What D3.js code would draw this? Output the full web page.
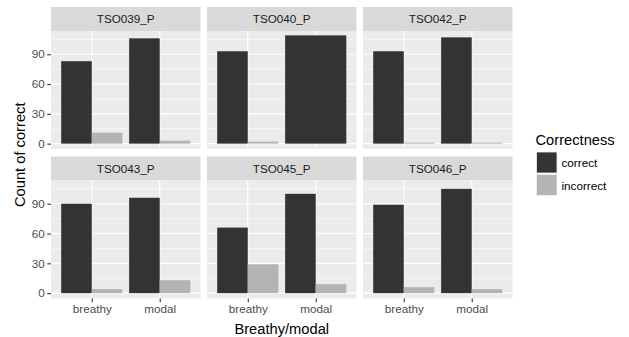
<!DOCTYPE html>
<html>
<head>
<meta charset="utf-8">
<script src="https://cdn.jsdelivr.net/npm/d3@7"></script>
<style>
  body { margin: 0; background: #fff; }
  svg { display: block; font-family: 'Liberation Sans', Arial, sans-serif; }
</style>
</head>
<body>
<svg id="chart" width="629" height="337"></svg>
<script>
// data
const speakers = ['TSO039_P', 'TSO040_P', 'TSO042_P', 'TSO043_P', 'TSO045_P', 'TSO046_P']
const voices = ['breathy', 'modal']
const levels = ['correct', 'incorrect']
const correctCounts = [[83, 106], [93, 109], [93, 107], [90, 96], [66, 100], [89, 105]]
const incorrectCounts = [[11, 3], [2, null], [1, 1], [4, 13], [29, 9], [6, 4]]
const yTicks = [0, 30, 60, 90]
const yMinor = [15, 45, 75, 105]
const yMax = 108

const fills = { correct: '#333333', incorrect: '#B3B3B3' }

const svg = d3.select('#chart')

// layout
const colX = [51, 207, 363]
const panelW = 149.5
const rowTop = [7, 156.5]
const stripH = 24
const panelH = 118

const x = d3.scalePoint().domain(voices).range([0, panelW]).padding(0.6)
const step = x.step()
const y = d3.scaleLinear()
  .domain([-0.05 * yMax, 1.05 * yMax])
  .range([panelH, 0])

speakers.forEach((name, i) => {
  const col = i % 3, row = Math.floor(i / 3)
  const g = svg.append('g')
    .attr('transform', `translate(${colX[col]},${rowTop[row]})`)

  // strip
  g.append('rect').attr('width', panelW).attr('height', stripH).attr('fill', '#D9D9D9')
  g.append('text')
    .attr('x', panelW / 2).attr('y', stripH / 2 + 4.2)
    .attr('text-anchor', 'middle')
    .attr('font-size', 11.7).attr('fill', '#1A1A1A')
    .text(name)

  const p = g.append('g').attr('transform', `translate(0,${stripH})`)
  p.append('rect').attr('width', panelW).attr('height', panelH).attr('fill', '#EBEBEB')

  // grid
  p.selectAll('.minor').data(yMinor).join('line')
    .attr('x1', 0).attr('x2', panelW)
    .attr('y1', d => y(d)).attr('y2', d => y(d))
    .attr('stroke', '#fff').attr('stroke-width', 0.55)
  p.selectAll('.major').data(yTicks).join('line')
    .attr('x1', 0).attr('x2', panelW)
    .attr('y1', d => y(d)).attr('y2', d => y(d))
    .attr('stroke', '#fff').attr('stroke-width', 1.1)
  p.selectAll('.xmajor').data(voices).join('line')
    .attr('x1', d => x(d)).attr('x2', d => x(d))
    .attr('y1', 0).attr('y2', panelH)
    .attr('stroke', '#fff').attr('stroke-width', 1.1)

  // bars, dodged
  voices.forEach((v, j) => {
    const vals = [correctCounts[i][j], incorrectCounts[i][j]]
    const present = levels.map((l, k) => ({ level: l, value: vals[k] })).filter(d => d.value != null)
    const bw = 0.9 * step / present.length
    const x0 = x(v) - 0.45 * step
    p.selectAll(null).data(present).join('rect')
      .attr('x', (d, k) => x0 + k * bw)
      .attr('width', bw)
      .attr('y', d => y(d.value))
      .attr('height', d => y(0) - y(d.value))
      .attr('fill', d => fills[d.level])
  })

  // y axis on first column
  if (col === 0) {
    const ya = p.append('g').call(d3.axisLeft(y).tickValues(yTicks).tickSize(3.7).tickPadding(2.5))
    ya.select('.domain').remove()
    ya.selectAll('line').attr('stroke', '#333333').attr('stroke-width', 1.1)
    ya.selectAll('text').attr('font-size', 11.7).attr('fill', '#4D4D4D')
      .attr('font-family', 'Liberation Sans, Arial, sans-serif')
  }
  // x axis on bottom row
  if (row === 1) {
    const xa = p.append('g').attr('transform', `translate(0,${panelH})`)
      .call(d3.axisBottom(x).tickSize(3.7).tickPadding(2.5))
    xa.select('.domain').remove()
    xa.selectAll('line').attr('stroke', '#333333').attr('stroke-width', 1.1)
    xa.selectAll('text').attr('font-size', 11.7).attr('fill', '#4D4D4D')
      .attr('font-family', 'Liberation Sans, Arial, sans-serif')
  }
})

// axis titles
svg.append('text')
  .attr('transform', `translate(24.5,${(rowTop[0] + rowTop[1] + stripH + panelH) / 2 + 2}) rotate(-90)`)
  .attr('text-anchor', 'middle').attr('font-size', 14.7).attr('fill', '#000')
  .text('Count of correct')
svg.append('text')
  .attr('x', (colX[0] + colX[2] + panelW) / 2).attr('y', 333.5)
  .attr('text-anchor', 'middle').attr('font-size', 14.7).attr('fill', '#000')
  .text('Breathy/modal')

// legend
const leg = svg.append('g').attr('transform', 'translate(535.5,145)')
leg.append('text').attr('x', 0).attr('y', 0).attr('font-size', 14.7).attr('fill', '#000').text('Correctness')
levels.forEach((l, k) => {
  leg.append('rect')
    .attr('x', 1).attr('y', 7 + k * 22.5)
    .attr('width', 20.5).attr('height', 21)
    .attr('fill', fills[l]).attr('stroke', '#F2F2F2').attr('stroke-width', 0.8)
  leg.append('text')
    .attr('x', 26).attr('y', 22 + k * 22.5)
    .attr('font-size', 11.7).attr('fill', '#000').text(l)
})
</script>
</body>
</html>
